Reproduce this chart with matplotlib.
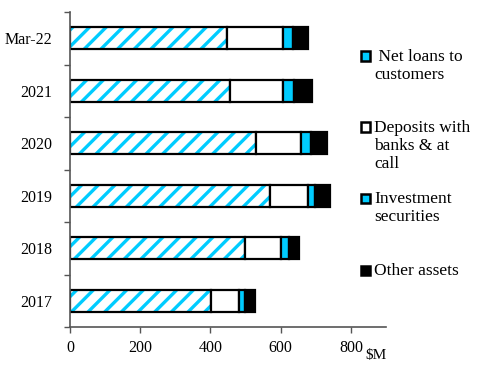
import numpy as np
import matplotlib.pyplot as plt
from matplotlib.patches import Rectangle

plt.rcParams['font.family'] = ['Liberation Serif', 'DejaVu Serif']
plt.rcParams['hatch.linewidth'] = 2.4

# values in $M
periods = ['2017', '2018', '2019', '2020', '2021', 'Mar-22']
net_loans = [403, 499, 570, 530, 457, 447]
deposits = [79, 102, 109, 128, 151, 159]
investments = [17, 22, 19, 29, 31, 28]
other_assets = [28, 30, 43, 45, 49, 45]

series_labels = [' Net loans to\ncustomers', 'Deposits with\nbanks & at\ncall',
                 'Investment\nsecurities', 'Other assets']

CYAN = '#00CCFF'

fig = plt.figure(figsize=(4.78, 3.67), dpi=100)
ax = fig.add_axes([70 / 478, 1 - 327 / 367, 316 / 478, 315 / 367])

y = np.arange(len(periods))
h = 0.42
left = np.zeros(len(periods))

# hatched net loans: hatch drawn in cyan, outline drawn separately in black
ax.barh(y, net_loans, h, left=left, color='white', edgecolor=CYAN,
        hatch='//', linewidth=0)
ax.barh(y, net_loans, h, left=left, fill=False, edgecolor='black', linewidth=1.6)
left += net_loans
ax.barh(y, deposits, h, left=left, color='white', edgecolor='black', linewidth=1.6)
left += deposits
ax.barh(y, investments, h, left=left, color=CYAN, edgecolor='black', linewidth=1.6)
left += investments
ax.barh(y, other_assets, h, left=left, color='black', edgecolor='black', linewidth=1.6)

ax.set_xlim(0, 900)
ax.set_ylim(-0.5, len(periods) - 0.5)
ax.set_xticks([0, 200, 400, 600, 800])
ax.set_yticks(y)
ax.set_yticklabels(periods)
ax.set_yticks(np.arange(-0.5, len(periods)), minor=True)
ax.tick_params(axis='y', which='major', length=0, pad=13, labelsize=11.5)
ax.tick_params(axis='y', which='minor', length=4, color='#555555', width=1)
ax.tick_params(axis='x', length=4, color='#555555', width=1, labelsize=11.5, pad=5)

for side in ['top', 'right']:
    ax.spines[side].set_visible(False)
for side in ['left', 'bottom']:
    ax.spines[side].set_color('#555555')
    ax.spines[side].set_linewidth(1.2)

fig.text(365 / 478, 1 - 356 / 367, '$M', fontsize=11, va='center', ha='left')

# legend drawn by hand so the key squares sit on the first line of text
key_y = [56, 127, 198, 270]
key_face = [CYAN, 'white', CYAN, 'black']
for i, (ky, fc, lab) in enumerate(zip(key_y, key_face, series_labels)):
    fig.patches.append(Rectangle((361 / 478, 1 - (ky + 4.5) / 367), 9 / 478, 9 / 367,
                                 transform=fig.transFigure, facecolor=fc,
                                 edgecolor='black', linewidth=1.8))
    if i == 0:
        fig.patches.append(Rectangle((362 / 478, 1 - (ky + 3.5) / 367), 7 / 478, 7 / 367,
                                     transform=fig.transFigure, fill=False,
                                     edgecolor='white', hatch='/', linewidth=0))
    fig.text(374 / 478, 1 - (ky - 7) / 367, lab, fontsize=12.5, va='top',
             ha='left', linespacing=1.15)

fig.savefig('out.png', dpi=100)
